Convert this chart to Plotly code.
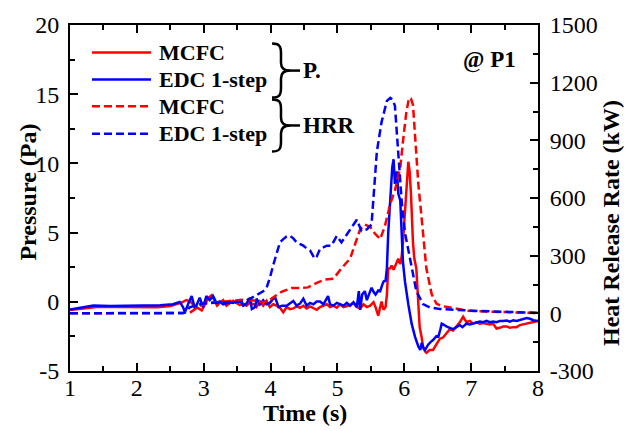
import plotly.graph_objects as go

# ---------------- data ----------------
t_p_mcfc = [1.0,1.2,1.4,1.7,2.0,2.3,2.5,2.6,2.67,2.74,2.8,2.84,2.89,2.97,3.02,3.07,3.12,3.17,3.2,3.24,3.29,3.34,3.39,3.44,3.49,3.54,3.59,3.64,3.69,3.75,3.79,3.84,3.89,3.94,3.99,4.04,4.09,4.14,4.19,4.24,4.29,4.34,4.39,4.44,4.49,4.54,4.59,4.64,4.69,4.74,4.79,4.84,4.89,4.94,4.99,5.04,5.09,5.14,5.19,5.24,5.29,5.34,5.39,5.44,5.49,5.54,5.57,5.61,5.64,5.66,5.69,5.72,5.74,5.76,5.79,5.81,5.84,5.86,5.89,5.91,5.94,5.96,5.98,6.01,6.04,6.06,6.08,6.1,6.13,6.15,6.18,6.21,6.23,6.26,6.28,6.31,6.33,6.38,6.43,6.48,6.53,6.58,6.63,6.68,6.73,6.78,6.83,6.88,6.93,6.98,7.03,7.08,7.13,7.18,7.23,7.28,7.33,7.38,7.43,7.48,7.53,7.58,7.63,7.68,7.73,7.78,7.83,7.88,7.93,8.0]
p_mcfc = [-0.6,-0.48,-0.38,-0.38,-0.38,-0.4,-0.3,-0.18,-0.05,0.13,0.02,-0.18,-0.38,-0.62,-0.18,0.29,0.48,0.02,-0.28,-0.08,0.12,-0.28,-0.13,0.07,-0.08,-0.23,-0.13,-0.28,-0.08,-0.18,-0.38,0.02,-0.28,0.06,-0.38,-0.18,-0.28,-0.43,-0.76,-0.38,-0.53,-0.48,-0.33,-0.43,-0.28,-0.48,-0.33,-0.43,-0.58,-0.38,-0.28,-0.18,-0.38,-0.28,-0.43,-0.18,-0.38,-0.33,-0.23,-0.08,-0.38,-0.48,-0.18,-0.38,-0.28,-0.03,-0.38,-1.0,-0.48,0.02,-0.58,-0.38,0.52,2.41,2.42,2.62,2.32,2.52,2.82,3.11,2.72,3.22,4.29,6.62,9.22,10.12,9.42,7.82,4.29,3.12,2.42,0.06,-1.82,-2.58,-3.23,-3.58,-3.68,-3.48,-3.48,-3.08,-2.68,-2.58,-2.28,-1.98,-2.08,-1.78,-1.48,-1.08,-1.48,-1.38,-1.58,-1.48,-1.58,-1.53,-1.58,-1.63,-1.58,-1.93,-1.88,-1.78,-1.78,-1.88,-1.83,-1.83,-1.68,-1.63,-1.58,-1.53,-1.48,-1.38]

t_p_edc = [1.0,1.2,1.35,1.6,1.9,2.1,2.35,2.54,2.64,2.69,2.72,2.77,2.82,2.87,2.94,2.99,3.04,3.09,3.14,3.19,3.24,3.29,3.34,3.39,3.44,3.49,3.54,3.59,3.64,3.69,3.72,3.77,3.79,3.84,3.89,3.94,3.99,4.04,4.07,4.12,4.17,4.24,4.29,4.34,4.39,4.44,4.49,4.54,4.59,4.64,4.69,4.74,4.79,4.84,4.86,4.89,4.94,4.99,5.04,5.09,5.14,5.19,5.24,5.29,5.32,5.34,5.37,5.41,5.44,5.47,5.51,5.54,5.57,5.61,5.64,5.67,5.69,5.72,5.74,5.76,5.78,5.8,5.82,5.84,5.86,5.89,5.91,5.94,5.96,5.98,6.01,6.04,6.06,6.11,6.16,6.21,6.24,6.26,6.29,6.31,6.36,6.4,6.43,6.48,6.51,6.54,6.56,6.6,6.63,6.68,6.73,6.78,6.83,6.87,6.93,6.98,7.03,7.08,7.13,7.18,7.23,7.28,7.33,7.38,7.43,7.48,7.53,7.58,7.63,7.68,7.73,7.78,7.83,7.88,7.93,8.0]
p_edc = [-0.55,-0.42,-0.27,-0.3,-0.28,-0.3,-0.25,-0.18,-0.01,-0.38,-0.76,-0.13,0.41,-0.52,0.29,-0.38,0.41,0.12,0.41,-0.08,0.02,-0.18,-0.13,-0.03,-0.08,0.02,0.12,-0.28,-0.13,0.29,-0.52,-0.38,0.22,-0.18,0.12,-0.18,-0.08,0.22,0.29,-0.38,-0.28,-0.28,-0.08,0.06,-0.28,-0.13,0.22,-0.28,-0.08,-0.18,0.02,0.02,-0.18,0.22,0.41,-0.18,-0.28,-0.08,-0.18,-0.28,-0.08,-0.28,-0.03,-0.38,0.77,-0.58,0.52,0.77,0.12,0.52,1.02,0.72,0.52,0.82,0.77,1.22,1.47,1.52,2.42,4.99,6.92,8.52,9.72,10.3,8.52,9.42,7.82,7.32,5.22,2.88,1.47,0.42,-0.18,-1.58,-2.52,-3.23,-3.48,-2.98,-3.38,-3.48,-3.08,-2.88,-2.76,-2.48,-2.52,-1.98,-1.58,-1.68,-1.78,-1.88,-1.98,-1.83,-1.68,-1.83,-1.58,-1.63,-1.58,-1.48,-1.43,-1.48,-1.38,-1.48,-1.43,-1.48,-1.38,-1.38,-1.35,-1.43,-1.33,-1.38,-1.33,-1.28,-1.18,-1.23,-1.33,-1.38]

t_hrr_mcfc = [1.0,2.74,2.79,2.84,2.89,2.94,3.02,3.09,3.27,3.47,3.64,3.77,3.87,3.97,4.04,4.09,4.17,4.24,4.32,4.44,4.56,4.69,4.81,4.94,5.06,5.19,5.26,5.34,5.41,5.49,5.56,5.64,5.71,5.79,5.86,5.94,5.98,6.03,6.07,6.1,6.13,6.16,6.21,6.28,6.33,6.41,6.48,6.55,6.63,6.77,6.93,7.2,7.5,8.0]
hrr_mcfc = [0,0,3,14,25,39,50,56,60,67,73,65,57,65,80,95,113,123,132,132,135,158,175,180,234,285,352,437,462,450,415,386,454,570,640,758,893,1045,1121,1117,1085,927,673,420,234,99,51,39,33,23,14,9,5,2]

t_hrr_edc = [1.0,2.69,2.74,2.79,2.87,2.97,3.17,3.37,3.57,3.69,3.79,3.89,3.94,3.99,4.04,4.09,4.14,4.19,4.24,4.29,4.34,4.39,4.49,4.55,4.59,4.66,4.69,4.74,4.84,4.91,4.99,5.06,5.16,5.24,5.29,5.36,5.44,5.51,5.54,5.59,5.66,5.71,5.74,5.79,5.83,5.86,5.91,5.96,6.01,6.06,6.11,6.18,6.28,6.38,6.53,6.77,7.0,7.3,7.6,8.0]
hrr_edc = [0,0,10,31,40,50,55,57,60,75,95,115,132,185,251,315,369,386,400,403,390,369,352,335,327,285,295,335,352,352,403,369,420,462,487,428,437,462,623,842,995,1075,1105,1121,1110,1079,842,589,420,335,234,116,48,31,23,17,14,10,6,3]

series_names = ["MCFC", "EDC 1-step", "MCFC", "EDC 1-step"]
group_labels = ["P.", "HRR"]
x_ticks = [1, 2, 3, 4, 5, 6, 7, 8]
y_ticks = [-5, 0, 5, 10, 15, 20]
y_ticktext = ["-5", "0", "5", "10", "15", "20"]
y2_ticks = [-300, 0, 300, 600, 900, 1200, 1500]
y2_ticktext = ["-300", "0", "300", "600", "900", "1200", "1500"]
x_title = "Time (s)"
y_title = "Pressure (Pa)"
y2_title = "Heat Release Rate (kW)"
tag = "@ P1"

# ---------------- style ----------------
RED = "#FF0000"
BLUE = "#0000FF"
FONT = "Liberation Serif, Times New Roman, serif"
W, H = 630, 431
ML, MR, MT, MB = 70, 92, 18, 60
PW, PH = W - ML - MR, H - MT - MB


def px2paper(px, py):
    return (px - ML) / PW, (H - MB - py) / PH


fig = go.Figure()
fig.add_trace(go.Scatter(x=t_p_mcfc, y=p_mcfc, mode="lines", line=dict(color=RED, width=2.5), showlegend=False))
fig.add_trace(go.Scatter(x=t_p_edc, y=p_edc, mode="lines", line=dict(color=BLUE, width=2.5), showlegend=False))
fig.add_trace(go.Scatter(x=t_hrr_mcfc, y=hrr_mcfc, yaxis="y2", mode="lines",
                         line=dict(color=RED, width=2.5, dash="8px,4px"), showlegend=False))
fig.add_trace(go.Scatter(x=t_hrr_edc, y=hrr_edc, yaxis="y2", mode="lines",
                         line=dict(color=BLUE, width=2.5, dash="8px,4px"), showlegend=False))

shapes = []
annotations = []


def text_at(px, py, txt, size, xanchor="left", angle=0):
    x, y = px2paper(px, py)
    annotations.append(dict(xref="paper", yref="paper", x=x, y=y, text="<b>%s</b>" % txt,
                            showarrow=False, xanchor=xanchor, yanchor="middle", textangle=angle,
                            font=dict(family=FONT, size=size, color="black")))


# manual legend
rows_py = [46, 73.5, 101, 129]
colors = [RED, BLUE, RED, BLUE]
dashes = ["solid", "solid", "8px,4px", "8px,4px"]
for py, c, d, name in zip(rows_py, colors, dashes, series_names):
    x0, y0 = px2paper(92, py)
    x1, _ = px2paper(151, py)
    shapes.append(dict(type="line", xref="paper", yref="paper", x0=x0, x1=x1, y0=y0, y1=y0,
                       line=dict(color=c, width=2.5, dash=d)))
    text_at(157, py, name, 22)


def brace(top, bottom, xl=272, xs=281, xt=290):
    mid = (top + bottom) / 2
    pts = [
        ("M", [(xl, top)]),
        ("C", [(xl + 7, top), (xs, top + 2), (xs, top + 10)]),
        ("L", [(xs, mid - 8)]),
        ("C", [(xs, mid - 2), (xs + 4, mid), (xt, mid)]),
        ("C", [(xs + 4, mid), (xs, mid + 2), (xs, mid + 8)]),
        ("L", [(xs, bottom - 10)]),
        ("C", [(xs, bottom - 2), (xl + 7, bottom), (xl, bottom)]),
    ]
    s = ""
    for cmd, ps in pts:
        s += cmd + " " + " ".join("%.5f,%.5f" % px2paper(a, b) for a, b in ps) + " "
    return s.strip(), mid


for (top, bottom), lab in zip([(37, 92), (94, 147)], group_labels):
    path, mid = brace(top, bottom)
    shapes.append(dict(type="path", xref="paper", yref="paper", path=path,
                       line=dict(color="black", width=2.5)))
    lx0, ly = px2paper(289, mid)
    lx1, _ = px2paper(300, mid)
    shapes.append(dict(type="line", xref="paper", yref="paper", x0=lx0, x1=lx1, y0=ly, y1=ly,
                       line=dict(color="black", width=2.5)))
    text_at(301, mid, lab, 23)

text_at(518, 54, tag, 23, xanchor="right")

# axis titles as annotations for exact placement
text_at(305, 414, x_title, 24, xanchor="center")
text_at(28, 189, y_title, 24, xanchor="center", angle=-90)
text_at(611, 220, y2_title, 24, xanchor="center", angle=-90)

tickfont = dict(family=FONT, size=24, color="black")
axis_common = dict(showline=True, linecolor="black", linewidth=2, ticks="inside",
                   ticklen=8, tickwidth=2, tickcolor="black", showgrid=False, zeroline=False,
                   tickfont=tickfont)

fig.update_layout(
    width=W, height=H,
    margin=dict(l=ML, r=MR, t=MT, b=MB, pad=0),
    paper_bgcolor="white", plot_bgcolor="white",
    showlegend=False,
    shapes=shapes, annotations=annotations,
    xaxis=dict(range=[1, 8], tickvals=x_ticks, mirror="ticks", ticklabelstandoff=-6,
               minor=dict(dtick=0.5, ticks="inside", ticklen=5, tickwidth=2, tickcolor="black"),
               **axis_common),
    yaxis=dict(range=[-5, 20], tickvals=y_ticks, ticktext=y_ticktext, ticklabelstandoff=4,
               minor=dict(dtick=2.5, ticks="inside", ticklen=5, tickwidth=2, tickcolor="black"),
               **axis_common),
    yaxis2=dict(range=[-300, 1500], tickvals=y2_ticks, ticktext=y2_ticktext, overlaying="y", side="right",
                ticklabelstandoff=5,
                minor=dict(dtick=150, ticks="inside", ticklen=5, tickwidth=2, tickcolor="black"),
                **axis_common),
)

fig.write_html("out.html")
